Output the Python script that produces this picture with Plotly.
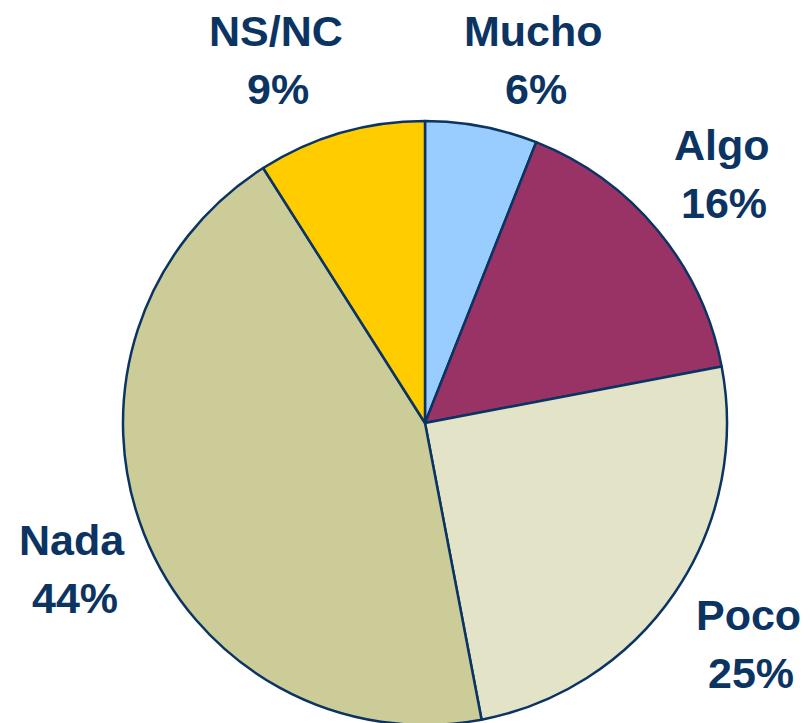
import plotly.graph_objects as go

labels = ["Mucho", "Algo", "Poco", "Nada", "NS/NC"]
values = [6, 16, 25, 44, 9]
colors = ["#99CCFF", "#993366", "#E3E3C8", "#CCCC99", "#FFCC00"]

# the page body adds an 8px offset; lay out in screen pixels and shift
OFF = 8
W, H = 810 - OFF, 726 - OFF

# label centre positions in screen pixels (name line, percent line)
label_pos = {
    "Mucho": (533, 31, 536, 89),
    "Algo": (722, 145, 724, 203),
    "Poco": (748, 615, 751, 673),
    "Nada": (72, 540, 75, 598),
    "NS/NC": (276, 31, 278, 89),
}

cx, cy, r = 425 - OFF, 423 - OFF, 302
fig = go.Figure(go.Pie(
    labels=labels,
    values=values,
    sort=False,
    direction="clockwise",
    rotation=0,
    marker=dict(colors=colors, line=dict(color="#0B3463", width=2.5)),
    textinfo="none",
    hoverinfo="label+percent",
    showlegend=False,
    domain=dict(x=[(cx - r) / W, (cx + r) / W], y=[max(0, (H - cy - r) / H), (H - cy + r) / H]),
))

font = dict(family="Liberation Sans, Arial, sans-serif", size=43, color="#0B3463")
total = sum(values)
for lab, val in zip(labels, values):
    x1, y1, x2, y2 = label_pos[lab]
    fig.add_annotation(x=(x1 - OFF) / W, y=1 - (y1 - OFF) / H, xref="paper", yref="paper",
                       text=f"<b>{lab}</b>", showarrow=False, font=font,
                       xanchor="center", yanchor="middle")
    fig.add_annotation(x=(x2 - OFF) / W, y=1 - (y2 - OFF) / H, xref="paper", yref="paper",
                       text=f"<b>{round(100 * val / total)}%</b>", showarrow=False, font=font,
                       xanchor="center", yanchor="middle")

fig.update_layout(width=W, height=H, margin=dict(l=0, r=0, t=0, b=0),
                  paper_bgcolor="white", plot_bgcolor="white")
fig.write_html("out.html")
